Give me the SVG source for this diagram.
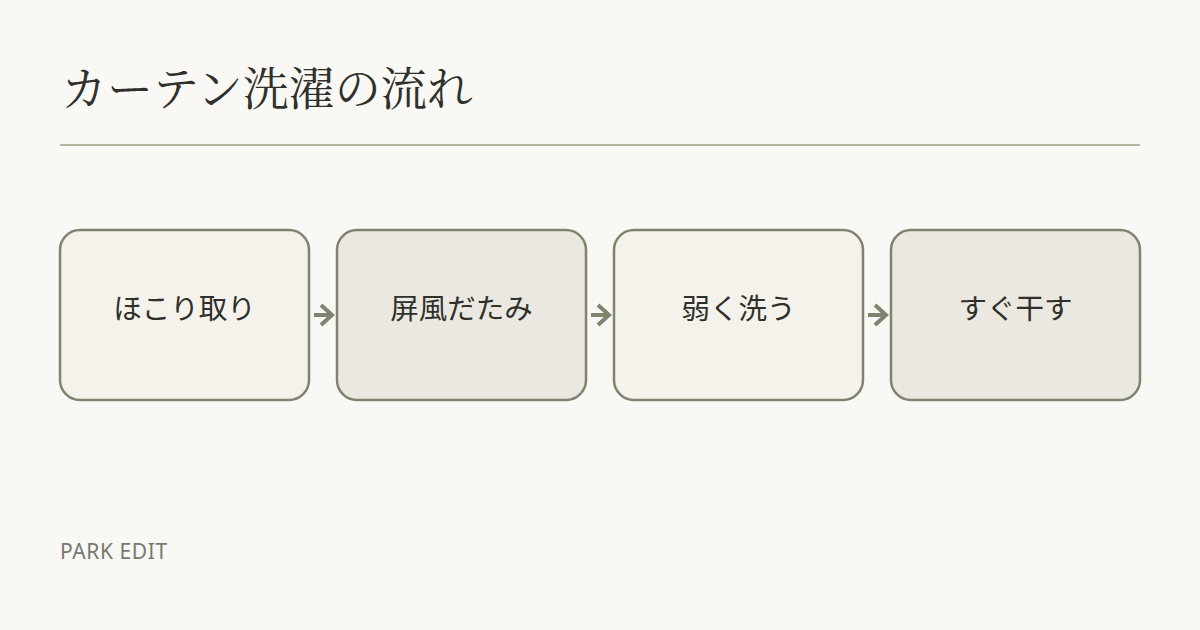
<svg xmlns="http://www.w3.org/2000/svg" width="1200" height="630" viewBox="0 0 1200 630">
<style>
.title{font-family:"Noto Serif CJK JP","Noto Sans CJK JP",serif;font-size:46px;fill:#2f302b}
.node rect{stroke:#7f8470;stroke-width:2.5}
.a{fill:#f4f2ea}
.b{fill:#eae8e0}
.label{font-family:"Noto Sans CJK JP",sans-serif;font-size:28.5px;fill:#2f302b;text-anchor:middle}
.conn path{fill:none;stroke:#7f8470;stroke-width:4}
.foot{font-family:"Noto Sans","Liberation Sans",sans-serif;font-size:21px;letter-spacing:0.6px;fill:#77786f}
</style>
<rect width="1200" height="630" fill="#f9f8f4"/>
<text class="title" x="61" y="105">カーテン洗濯の流れ</text>
<line x1="60" y1="145" x2="1140" y2="145" stroke="#b3b3a3" stroke-width="2"/>
<g id="conns" class="conn">
<path d="M314 315H332M321 305L332 315L321 325"/>
<path d="M591 315H609M598 305L609 315L598 325"/>
<path d="M868 315H886M875 305L886 315L875 325"/>
</g>
<g id="n1" class="node"><rect class="a" x="60" y="230" width="249" height="170" rx="20"/><text class="label" x="184.5" y="319">ほこり取り</text></g>
<g id="n2" class="node"><rect class="b" x="337" y="230" width="249" height="170" rx="20"/><text class="label" x="461.5" y="319">屏風だたみ</text></g>
<g id="n3" class="node"><rect class="a" x="614" y="230" width="249" height="170" rx="20"/><text class="label" x="738.5" y="319">弱く洗う</text></g>
<g id="n4" class="node"><rect class="b" x="891" y="230" width="249" height="170" rx="20"/><text class="label" x="1015.5" y="319">すぐ干す</text></g>
<text class="foot" x="60" y="559">PARK EDIT</text>
</svg>
